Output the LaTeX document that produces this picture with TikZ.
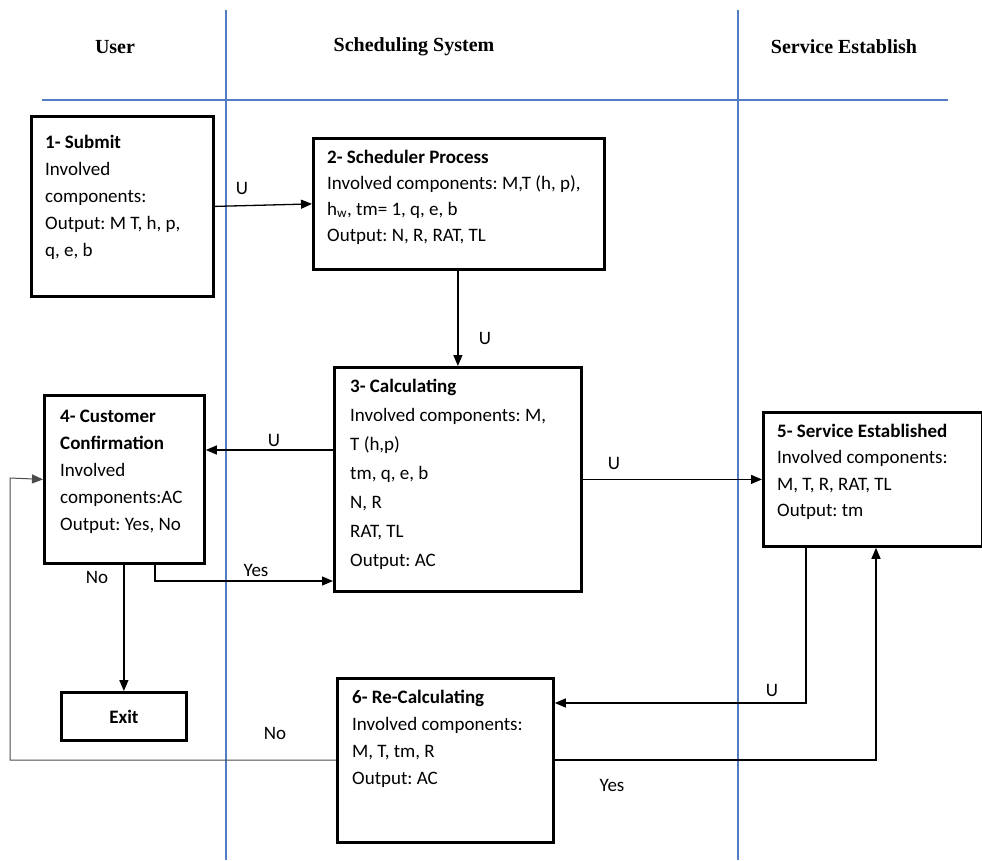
\documentclass[tikz,border=0pt]{standalone}
\usepackage{fontspec}
\setmainfont{Carlito}
\newfontfamily\headfont{Liberation Serif}
\usetikzlibrary{arrows.meta,calc}

\definecolor{laneblue}{RGB}{84,124,196}
\newcommand{\firstln}{\rule{0pt}{14pt}}
\frenchspacing

\tikzset{
  box/.style={draw, line width=2.8pt, anchor=north west, inner sep=0pt},
  txt/.style={anchor=north west, align=left, inner sep=0pt,
    font=\fontsize{19}{27}\selectfont},
  conn/.style={line width=1.3pt, -{Triangle[length=11pt,width=9pt]}},
  lane/.style={draw=laneblue, line width=1.3pt},
  lbl/.style={inner sep=0pt, font=\fontsize{19}{23}\selectfont},
  head/.style={inner sep=0pt, font=\headfont\bfseries\fontsize{20}{24}\selectfont}
}

\begin{document}
\begin{tikzpicture}[x=1pt, y=-1pt]
  \useasboundingbox (0,0) rectangle (982,860);

  % swim lanes
  \draw[lane] (226,10) -- (226,860);
  \draw[lane] (738,10) -- (738,860);
  \draw[lane] (42,100) -- (948,100);

  \node[head] (userhd) at (115,47) {User};
  \node[head] (schedhd) at (414,47) {Scheduling System};
  \node[head] (servhd) at (844,47) {Service Establish};

  % boxes
  \node[box, minimum width=182, minimum height=180] (submit) at (30,115) {};
  \node[box, minimum width=291, minimum height=131] (sched) at (312,137) {};
  \node[box, minimum width=247, minimum height=224] (calc) at (333,366) {};
  \node[box, minimum width=160, minimum height=168] (cust) at (43,394) {};
  \node[box, minimum width=219, minimum height=134] (serv) at (762,411) {};
  \node[box, minimum width=216, minimum height=164] (recalc) at (336,677) {};
  \node[box, minimum width=125, minimum height=48,
    font=\bfseries\fontsize{19}{23}\selectfont] (exit) at (60,691) {Exit};

  % box texts (first baseline 14pt below the node top)
  \node[txt] (submittxt) at ($(submit.north west)+(15,19)$)
    {\firstln\textbf{1- Submit}\\ Involved\\ components:\\ Output: M T, h, p,\\ q, e, b};
  \node[txt, font=\fontsize{19}{26}\selectfont] (schedtxt) at ($(sched.north west)+(15,12)$)
    {\firstln\textbf{2- Scheduler Process}\\ Involved components: M,T (h, p),\\
     h\textsubscript{w}, tm= 1, q, e, b\\ Output: N, R, RAT, TL};
  \node[txt, font=\fontsize{19}{29}\selectfont] (calctxt) at ($(calc.north west)+(17,12)$)
    {\firstln\textbf{3- Calculating}\\ Involved components: M,\\ T (h,p)\\ tm, q, e, b\\
     N, R\\ RAT, TL\\ Output: AC};
  \node[txt] (custtxt) at ($(cust.north west)+(17,14)$)
    {\firstln\textbf{4- Customer}\\ \textbf{Confirmation}\\ Involved\\ components:AC\\ Output: Yes, No};
  \node[txt, font=\fontsize{19}{26.5}\selectfont] (servtxt) at ($(serv.north west)+(15,12)$)
    {\firstln\textbf{5- Service Established}\\ Involved components:\\ M, T, R, RAT, TL\\ Output: tm};
  \node[txt] (recalctxt) at ($(recalc.north west)+(16,12)$)
    {\firstln\textbf{6- Re-Calculating}\\ Involved components:\\ M, T, tm, R\\ Output: AC};

  % connectors
  \draw[conn] (submit.east) -- (sched.west);
  \draw[conn] (calc.north |- sched.south) -- (calc.north);
  \draw[conn] (calc.west |- 0,450) -- (cust.east |- 0,450);
  \draw[conn] (calc.east |- serv.west) -- (serv.west);
  \draw[conn] (cust.south -| 155,0) |- (calc.west |- 0,581);
  \draw[conn] (exit.north |- cust.south) -- (exit.north);
  \draw[conn] (serv.south -| 806,0) |- (recalc.east |- 0,703);
  \draw[conn] (recalc.east |- 0,760) -| (serv.south -| 876,0);
  \coordinate (noloop) at (10,478);
  \draw[conn, line width=1pt, draw=black!70] (recalc.west |- 0,760) -| (noloop) -- (cust.west);

  % connector labels
  \node[lbl] (u1) at (242,188) {U};
  \node[lbl] (u2) at (485,338) {U};
  \node[lbl] (u3) at (274,440) {U};
  \node[lbl] (u4) at (614,463) {U};
  \node[lbl] (u5) at (772,690) {U};
  \node[lbl] (yes1) at (256,570) {Yes};
  \node[lbl] (no1) at (97,577) {No};
  \node[lbl] (yes2) at (612,785) {Yes};
  \node[lbl] (no2) at (275,733) {No};
\end{tikzpicture}
\end{document}
